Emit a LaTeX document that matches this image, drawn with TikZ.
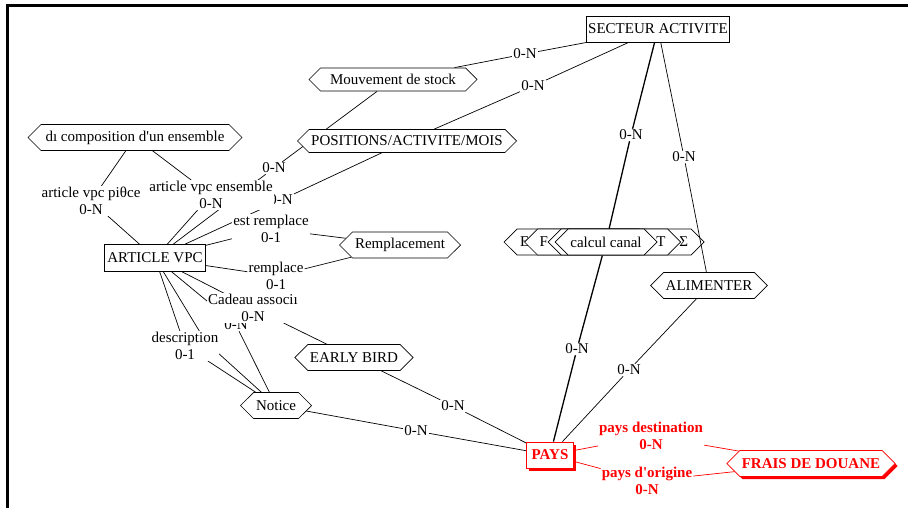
\documentclass[tikz,border=0pt]{standalone}
\usepackage{fontspec}
\setmainfont{Liberation Serif}
\usetikzlibrary{shapes.symbols,shadows}
\pgfdeclarelayer{edges}
\pgfsetlayers{edges,main}

\begin{document}
\begin{tikzpicture}[
  x=1pt, y=-1pt,
  every node/.style={font=\fontsize{15}{17}\selectfont},
  entity/.style ={draw, fill=white, inner sep=1pt, line width=0.8pt},
  assoc/.style  ={draw, fill=white, signal, signal to=west and east,
                  inner xsep=2pt, inner ysep=1pt, line width=0.7pt, minimum height=26pt},
  card/.style   ={fill=white, inner sep=1pt, align=center},
  hot/.style    ={draw=red, text=red, font=\fontsize{15}{17}\selectfont\bfseries,
                  drop shadow={shadow xshift=2.5pt, shadow yshift=-2.5pt, fill=red, opacity=1}},
  hotcard/.style={card, text=red, font=\fontsize{15}{17}\selectfont\bfseries},
  link/.style   ={line width=0.7pt},
  hotlink/.style={link, draw=red}
]
\useasboundingbox (0,0) rectangle (908,508);

% frame (top and left edges only)
\draw[line width=3.2pt] (908,5.6) -- (7.6,5.6) -- (7.6,508);

%%% ---- ENTITIES ---------------------------------------------------------
\node[entity, minimum width=143pt, minimum height=26pt] (secteur) at (658,29)  {SECTEUR ACTIVITE};
\node[entity, minimum width=101pt, minimum height=27pt] (article) at (155,258) {ARTICLE VPC};
\node[entity, hot, minimum width=47pt, minimum height=26pt] (pays) at (550,455) {PAYS};

%%% ---- ASSOCIATIONS -----------------------------------------------------
\node[assoc, minimum width=168pt, minimum height=23pt] (stock)     at (393,79.5)  {Mouvement de stock};
\node[assoc, minimum width=219pt, minimum height=23pt] (positions) at (407,141)   {POSITIONS/ACTIVITE/MOIS};
\node[assoc, minimum width=214pt] (decompo) at (135,137.5) {dı composition d\textquotesingle un ensemble};
\node[assoc, minimum width=121pt] (rempl)   at (400,245)   {Remplacement};
\node[assoc, minimum width=114pt] (early)   at (354,357.5) {EARLY BIRD};
\node[assoc, minimum width=71pt]  (notice)  at (276,405.5) {Notice};
\node[assoc, minimum width=115pt] (alim)    at (709,285.5) {ALIMENTER};
\node[assoc, hot, minimum width=162pt] (frais) at (811,463.5) {FRAIS DE DOUANE};

% stacked associations, the last one on top
\node[assoc, minimum width=200pt] (canalE) at (604,242)   {\makebox[168pt]{E\hfill Σ}};
\node[assoc, minimum width=155pt] (canalF) at (602.5,242) {\makebox[126pt]{F\hfill T}};
\node[assoc, minimum width=104pt] (canalG) at (600,242)   {};
\node[assoc, minimum width=102pt] (calcul) at (606,242)   {calcul canal};

%%% ---- CARDINALITIES ----------------------------------------------------
\node[card] (c1)  at (525,54)  {0-N};
\node[card] (c2)  at (533,86)  {0-N};
\node[card] (c3)  at (631,135) {0-N};
\node[card] (c4)  at (684,157) {0-N};
\node[card] (c5)  at (577,349) {0-N};
\node[card] (c6)  at (629,370) {0-N};
\node[card] (c7)  at (453,406) {0-N};
\node[card] (c8)  at (416,431) {0-N};
\node[card] (c9)  at (274,168) {0-N};
\node[card] (c10) at (281,200) {0-N};
\node[card] (c11) at (91,201)  {article vpc piθce\\0-N};
\node[card] (c12) at (211,195) {article vpc ensemble\\0-N};
\node[card] (c13) at (271,229) {est remplace\\0-1};
\node[card] (c14) at (276,276) {remplace\\0-1};
\node[card] (c15) at (236,325) {0-N};
\node[card] (c16) at (253,308) {Cadeau associı\\0-N};
\coordinate (descB) at (206,342);
\node[card] (c17) at (185,346) {description\\0-1};
\node[hotcard] (c18) at (651,436) {pays destination\\0-N};
\node[hotcard] (c19) at (647,481) {pays d\textquotesingle origine\\0-N};

%%% ---- LINKS ------------------------------------------------------------
\begin{pgfonlayer}{edges}
  \draw[link] (secteur) -- (c1) -- (stock);
  \draw[link] (secteur) -- (c2) -- (positions);
  \draw[link, line width=1.3pt] (secteur) -- (c3) -- (calcul) -- (c5) -- (pays);
  \draw[link] (alim)    -- (c6) -- (pays);
  \draw[link] (early)   -- (c7) -- (pays);
  \draw[link] (notice)  -- (c8) -- (pays);
  % links around ARTICLE VPC
  \draw[link] (stock)     -- (c9)  -- (article);
  \draw[link] (positions) -- (c10) -- (article);
  \draw[link] (decompo)   -- (c11) -- (article);
  \draw[link] (decompo)   -- (c12) -- (article);
  \draw[link] (rempl)     -- (c13) -- (article);
  \draw[link] (rempl)     -- (c14) -- (article);
  \draw[link] (notice)    -- (c15) -- (article);
  \draw[link] (early)     -- (c16) -- (article);
  \draw[link] (notice)    -- (c17) -- (article);
  \draw[link] (notice)    -- (descB) -- (article);
  % customs fees
  \draw[hotlink] (pays) -- (c18) -- (frais);
  \draw[hotlink] (pays) -- (c19) -- (frais);
\end{pgfonlayer}
% this one runs over the stacked associations
\draw[link] (secteur) -- (c4) -- (alim);

\end{tikzpicture}
\end{document}
